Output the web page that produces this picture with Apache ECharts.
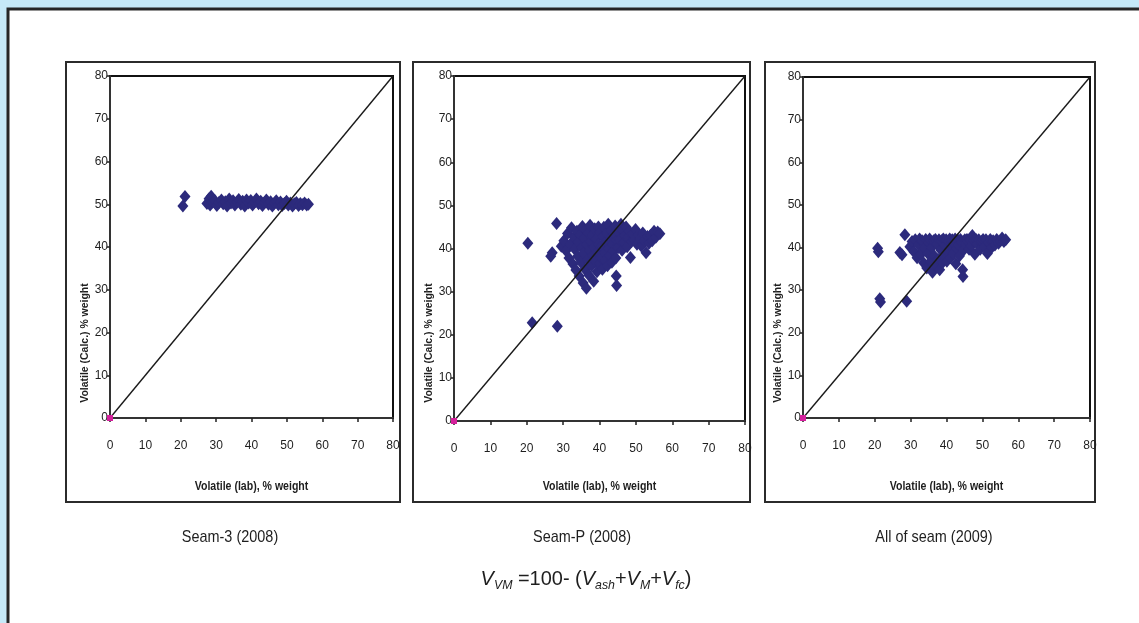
<!DOCTYPE html>
<html>
<head>
<meta charset="utf-8">
<script src="https://cdn.jsdelivr.net/npm/echarts@6/dist/echarts.min.js"></script>
<style>
  html, body { margin: 0; padding: 0; background: #c6e9f8; }
  #chart { width: 1139px; height: 623px; }
</style>
</head>
<body>
<div id="chart"></div>
<script>
// Axis ticks shared by every panel (0..80 %, step 10)
const axisMin = 0;
const axisMax = 80;
const axisStep = 10;

// Panel captions and axis titles
const panelTitles = ['Seam-3 (2008)', 'Seam-P (2008)', 'All of seam (2009)'];
const xTitle = 'Volatile (lab), % weight';
const yTitle = 'Volatile (Calc.) % weight';

// 1:1 reference line
const identityLine = [[0, 0], [80, 80]];
// origin marker
const originPoint = [[0, 0]];

// Seam-3 (2008): [lab, calculated]
const seam3 = [
  [20.6, 49.6], [21.2, 51.8],
  [27.4, 50.2], [28.0, 51.3], [28.3, 49.8], [28.6, 51.9], [29.0, 50.5], [29.6, 50.9], [30.2, 49.7],
  [30.8, 50.4], [31.5, 51.0], [32.0, 50.1], [32.6, 50.6], [33.1, 49.6], [33.7, 51.2], [34.2, 50.3],
  [34.8, 50.8], [35.3, 49.8], [35.9, 50.5], [36.4, 51.1], [37.0, 50.0], [37.5, 50.7], [38.1, 49.6],
  [38.6, 51.0], [39.2, 50.3], [39.8, 50.9], [40.3, 49.8], [40.9, 50.5], [41.4, 51.2], [42.0, 50.1],
  [42.6, 50.7], [43.1, 49.7], [43.7, 50.4], [44.2, 51.0], [44.8, 50.0], [45.4, 50.6], [45.9, 49.6],
  [46.5, 50.3], [47.0, 50.8], [47.6, 49.9], [48.2, 50.5], [48.7, 49.7], [49.3, 50.2], [49.9, 50.7],
  [50.4, 49.8], [51.0, 50.3], [51.6, 49.6], [52.1, 50.1], [52.7, 50.4], [53.3, 49.7], [53.8, 50.2],
  [54.4, 49.9], [55.0, 50.3], [55.6, 49.8], [56.1, 50.0]
];

// Seam-P (2008)
const seamP = [
  [20.3, 41.2], [21.5, 22.8], [28.4, 22.0], [28.2, 45.8], [27.0, 39.0], [26.6, 38.2],
  [29.5, 40.5], [30.2, 41.8], [30.8, 39.5], [31.2, 43.5], [31.6, 37.8], [32.0, 41.0], [32.3, 44.8],
  [32.7, 36.4], [33.0, 42.6], [33.2, 39.8], [33.5, 35.0], [33.8, 44.0], [34.0, 38.2], [34.2, 41.5],
  [34.4, 33.6], [34.7, 43.2], [34.9, 36.8], [35.1, 40.2], [35.3, 45.1], [35.5, 32.0], [35.6, 38.9],
  [35.8, 42.4], [36.0, 35.2], [36.2, 44.3], [36.4, 30.8], [36.5, 40.9], [36.7, 37.4], [36.9, 43.6],
  [37.1, 33.8], [37.3, 39.6], [37.4, 45.4], [37.6, 41.7], [37.8, 36.0], [38.0, 43.0], [38.2, 38.4],
  [38.4, 32.4], [38.5, 40.3], [38.7, 44.6], [38.9, 37.0], [39.1, 42.2], [39.3, 34.6], [39.5, 39.2],
  [39.7, 45.0], [39.8, 41.0], [40.0, 36.5], [40.2, 43.8], [40.4, 38.0], [40.6, 40.6], [40.8, 35.2],
  [41.0, 42.8], [41.2, 44.9], [41.4, 39.0], [41.6, 37.2], [41.8, 41.6], [42.0, 43.6], [42.2, 36.0],
  [42.4, 45.6], [42.6, 40.0], [42.8, 38.4], [43.0, 42.4], [43.2, 44.2], [43.4, 36.8], [43.6, 41.0],
  [43.8, 39.4], [44.0, 43.4], [44.3, 45.2], [44.5, 37.8], [44.6, 33.6], [44.7, 31.4], [44.8, 41.8],
  [45.1, 40.2], [45.3, 43.8], [45.6, 42.0], [45.9, 45.6], [46.2, 39.6], [46.4, 44.2], [46.7, 41.4],
  [47.0, 43.0], [47.3, 45.0], [47.6, 40.4], [47.9, 42.6], [48.2, 44.0], [48.5, 37.9], [48.8, 41.6],
  [49.1, 43.4], [49.5, 42.0], [49.9, 44.4], [50.3, 41.0], [50.7, 43.2], [51.1, 42.2], [51.5, 40.6],
  [51.9, 43.6], [52.3, 41.8], [52.8, 39.0], [53.2, 42.8], [53.6, 41.2], [54.0, 43.0], [54.5, 41.8],
  [55.0, 44.0], [55.5, 42.6], [56.0, 43.8], [56.6, 43.4]
];

// All of seam (2009)
const allSeam = [
  [20.8, 39.8], [21.0, 39.0], [21.4, 28.0], [21.6, 27.2], [28.9, 27.4], [28.4, 43.0], [27.6, 38.3],
  [27.0, 38.8],
  [29.8, 40.2], [30.4, 41.4], [30.9, 39.0], [31.3, 41.8], [31.8, 37.6], [32.2, 40.6], [32.5, 42.0],
  [32.9, 38.4], [33.2, 41.6], [33.6, 36.4], [33.9, 39.8], [34.2, 41.9], [34.5, 35.2], [34.8, 38.6],
  [35.1, 41.2], [35.3, 42.0], [35.6, 36.8], [35.9, 40.0], [36.1, 34.2], [36.4, 41.6], [36.6, 38.0],
  [36.9, 41.9], [37.1, 35.6], [37.4, 40.8], [37.6, 37.2], [37.9, 41.8], [38.1, 34.8], [38.4, 39.4],
  [38.6, 41.6], [38.9, 36.4], [39.1, 42.0], [39.4, 38.2], [39.6, 40.4], [39.9, 41.8], [40.1, 36.8],
  [40.4, 39.0], [40.6, 41.4], [40.9, 42.0], [41.1, 37.6], [41.4, 40.2], [41.6, 41.8], [41.9, 38.6],
  [42.1, 41.0], [42.4, 42.0], [42.6, 36.2], [42.9, 39.8], [43.1, 41.8], [43.4, 40.6], [43.6, 38.0],
  [43.9, 41.9], [44.2, 41.2], [44.5, 34.8], [44.6, 33.2], [44.8, 39.4], [45.1, 41.8], [45.4, 40.6],
  [45.7, 41.9], [46.0, 41.4], [46.3, 39.6], [46.6, 41.8], [46.9, 40.4], [47.2, 42.8], [47.6, 41.6],
  [47.9, 38.4], [48.3, 41.8], [48.6, 40.8], [49.0, 41.8], [49.4, 39.6], [49.8, 41.4], [50.2, 41.9],
  [50.6, 40.2], [51.0, 41.8], [51.4, 38.6], [51.8, 41.2], [52.2, 41.9], [52.6, 40.0], [53.0, 41.6],
  [53.5, 40.6], [54.0, 41.9], [54.5, 41.0], [55.0, 41.6], [55.5, 42.2], [56.0, 41.4], [56.5, 41.8]
];

const panelData = [seam3, seamP, allSeam];

const FONT = "'Liberation Sans Narrow', 'Liberation Sans', Arial, sans-serif";
const INK = '#1e1e1e';
const DOT = '#2c2a7c';

// plot rectangles and surrounding frames of the three panels
const grids = [
  { left: 110, top: 76, width: 283, height: 342 },
  { left: 454, top: 76, width: 291, height: 345 },
  { left: 803, top: 77, width: 287, height: 341 }
];
const frames = [
  { x: 66, y: 62, w: 334, h: 440 },
  { x: 413, y: 62, w: 337, h: 440 },
  { x: 765, y: 62, w: 330, h: 440 }
];
const captionX = [230, 582, 934];

const option = {
  animation: false,
  backgroundColor: 'transparent',
  grid: grids.map(g => Object.assign({
    show: true, borderColor: '#111', borderWidth: 2, backgroundColor: '#fff'
  }, g)),
  xAxis: grids.map((g, i) => ({
    gridIndex: i, type: 'value', min: axisMin, max: axisMax, interval: axisStep,
    axisLine: { show: true, onZero: false, lineStyle: { color: '#333', width: 2 } },
    axisTick: { show: true, length: 4, lineStyle: { color: '#222', width: 1.5 } },
    axisLabel: { fontFamily: FONT, fontSize: 12, color: INK, margin: 22 },
    splitLine: { show: false }
  })),
  yAxis: grids.map((g, i) => ({
    gridIndex: i, type: 'value', min: axisMin, max: axisMax, interval: axisStep,
    axisLine: { show: true, onZero: false, lineStyle: { color: '#333', width: 2 } },
    axisTick: { show: true, length: 3, lineStyle: { color: '#222', width: 1.5 } },
    axisLabel: { fontFamily: FONT, fontSize: 12, color: INK, margin: 2 },
    splitLine: { show: false }
  })),
  series: [].concat(
    panelData.map((d, i) => ({
      type: 'scatter', xAxisIndex: i, yAxisIndex: i, data: d,
      symbol: 'diamond', symbolSize: [11, 13],
      itemStyle: { color: DOT, opacity: 1 }, z: 2, silent: true
    })),
    panelData.map((d, i) => ({
      type: 'line', xAxisIndex: i, yAxisIndex: i, data: identityLine,
      symbol: 'none', lineStyle: { color: '#1a1a1a', width: 1.4 }, z: 3, silent: true
    })),
    panelData.map((d, i) => ({
      type: 'scatter', xAxisIndex: i, yAxisIndex: i, data: originPoint,
      symbol: 'rect', symbolSize: 6, itemStyle: { color: '#d4209c', opacity: 1 }, z: 4, silent: true
    }))
  ),
  graphic: [
    // page background and the white sheet
    { type: 'rect', z: -10, shape: { x: 0, y: 0, width: 1139, height: 623 }, style: { fill: '#c6e9f8' } },
    { type: 'rect', z: -9, shape: { x: 8, y: 9, width: 1200, height: 700 },
      style: { fill: '#ffffff', stroke: '#262626', lineWidth: 3 } }
  ].concat(
    frames.map(f => ({
      type: 'rect', z: -8, shape: { x: f.x, y: f.y, width: f.w, height: f.h },
      style: { fill: '#ffffff', stroke: '#2b2b2b', lineWidth: 2 }
    })),
    grids.map(g => ({
      type: 'text', z: 10, x: g.left + g.width / 2, y: 487, scaleX: 0.88,
      style: { text: xTitle, fontFamily: FONT, fontSize: 12, fontWeight: 'bold', fill: INK,
        align: 'center', verticalAlign: 'middle' }
    })),
    grids.map(g => ({
      type: 'text', z: 10, x: g.left - 25, y: 343, rotation: Math.PI / 2, scaleX: 0.95,
      style: { text: yTitle, fontFamily: FONT, fontSize: 11, fontWeight: 'bold', fill: INK,
        align: 'center', verticalAlign: 'middle' }
    })),
    grids.map((g, i) => ({
      type: 'text', z: 10, x: captionX[i], y: 537, scaleX: 0.85,
      style: { text: panelTitles[i], fontFamily: FONT, fontSize: 17, fill: INK,
        align: 'center', verticalAlign: 'middle' }
    })),
    [{
      type: 'text', z: 10, x: 586, y: 579, scaleX: 0.95,
      style: {
        text: '{v|V}{s|VM}{t| =100- (}{v|V}{s|ash}{t|+}{v|V}{s|M}{t|+}{v|V}{s|fc}{t|)}',
        align: 'center', verticalAlign: 'middle',
        rich: {
          v: { fontFamily: FONT, fontSize: 21, fontStyle: 'italic', fill: INK },
          s: { fontFamily: FONT, fontSize: 13, fontStyle: 'italic', fill: INK, padding: [12, 0, 0, 0] },
          t: { fontFamily: FONT, fontSize: 21, fill: INK }
        }
      }
    }]
  )
};

const chart = echarts.init(document.getElementById('chart'), null, { renderer: 'canvas' });
chart.setOption(option);
</script>
</body>
</html>
